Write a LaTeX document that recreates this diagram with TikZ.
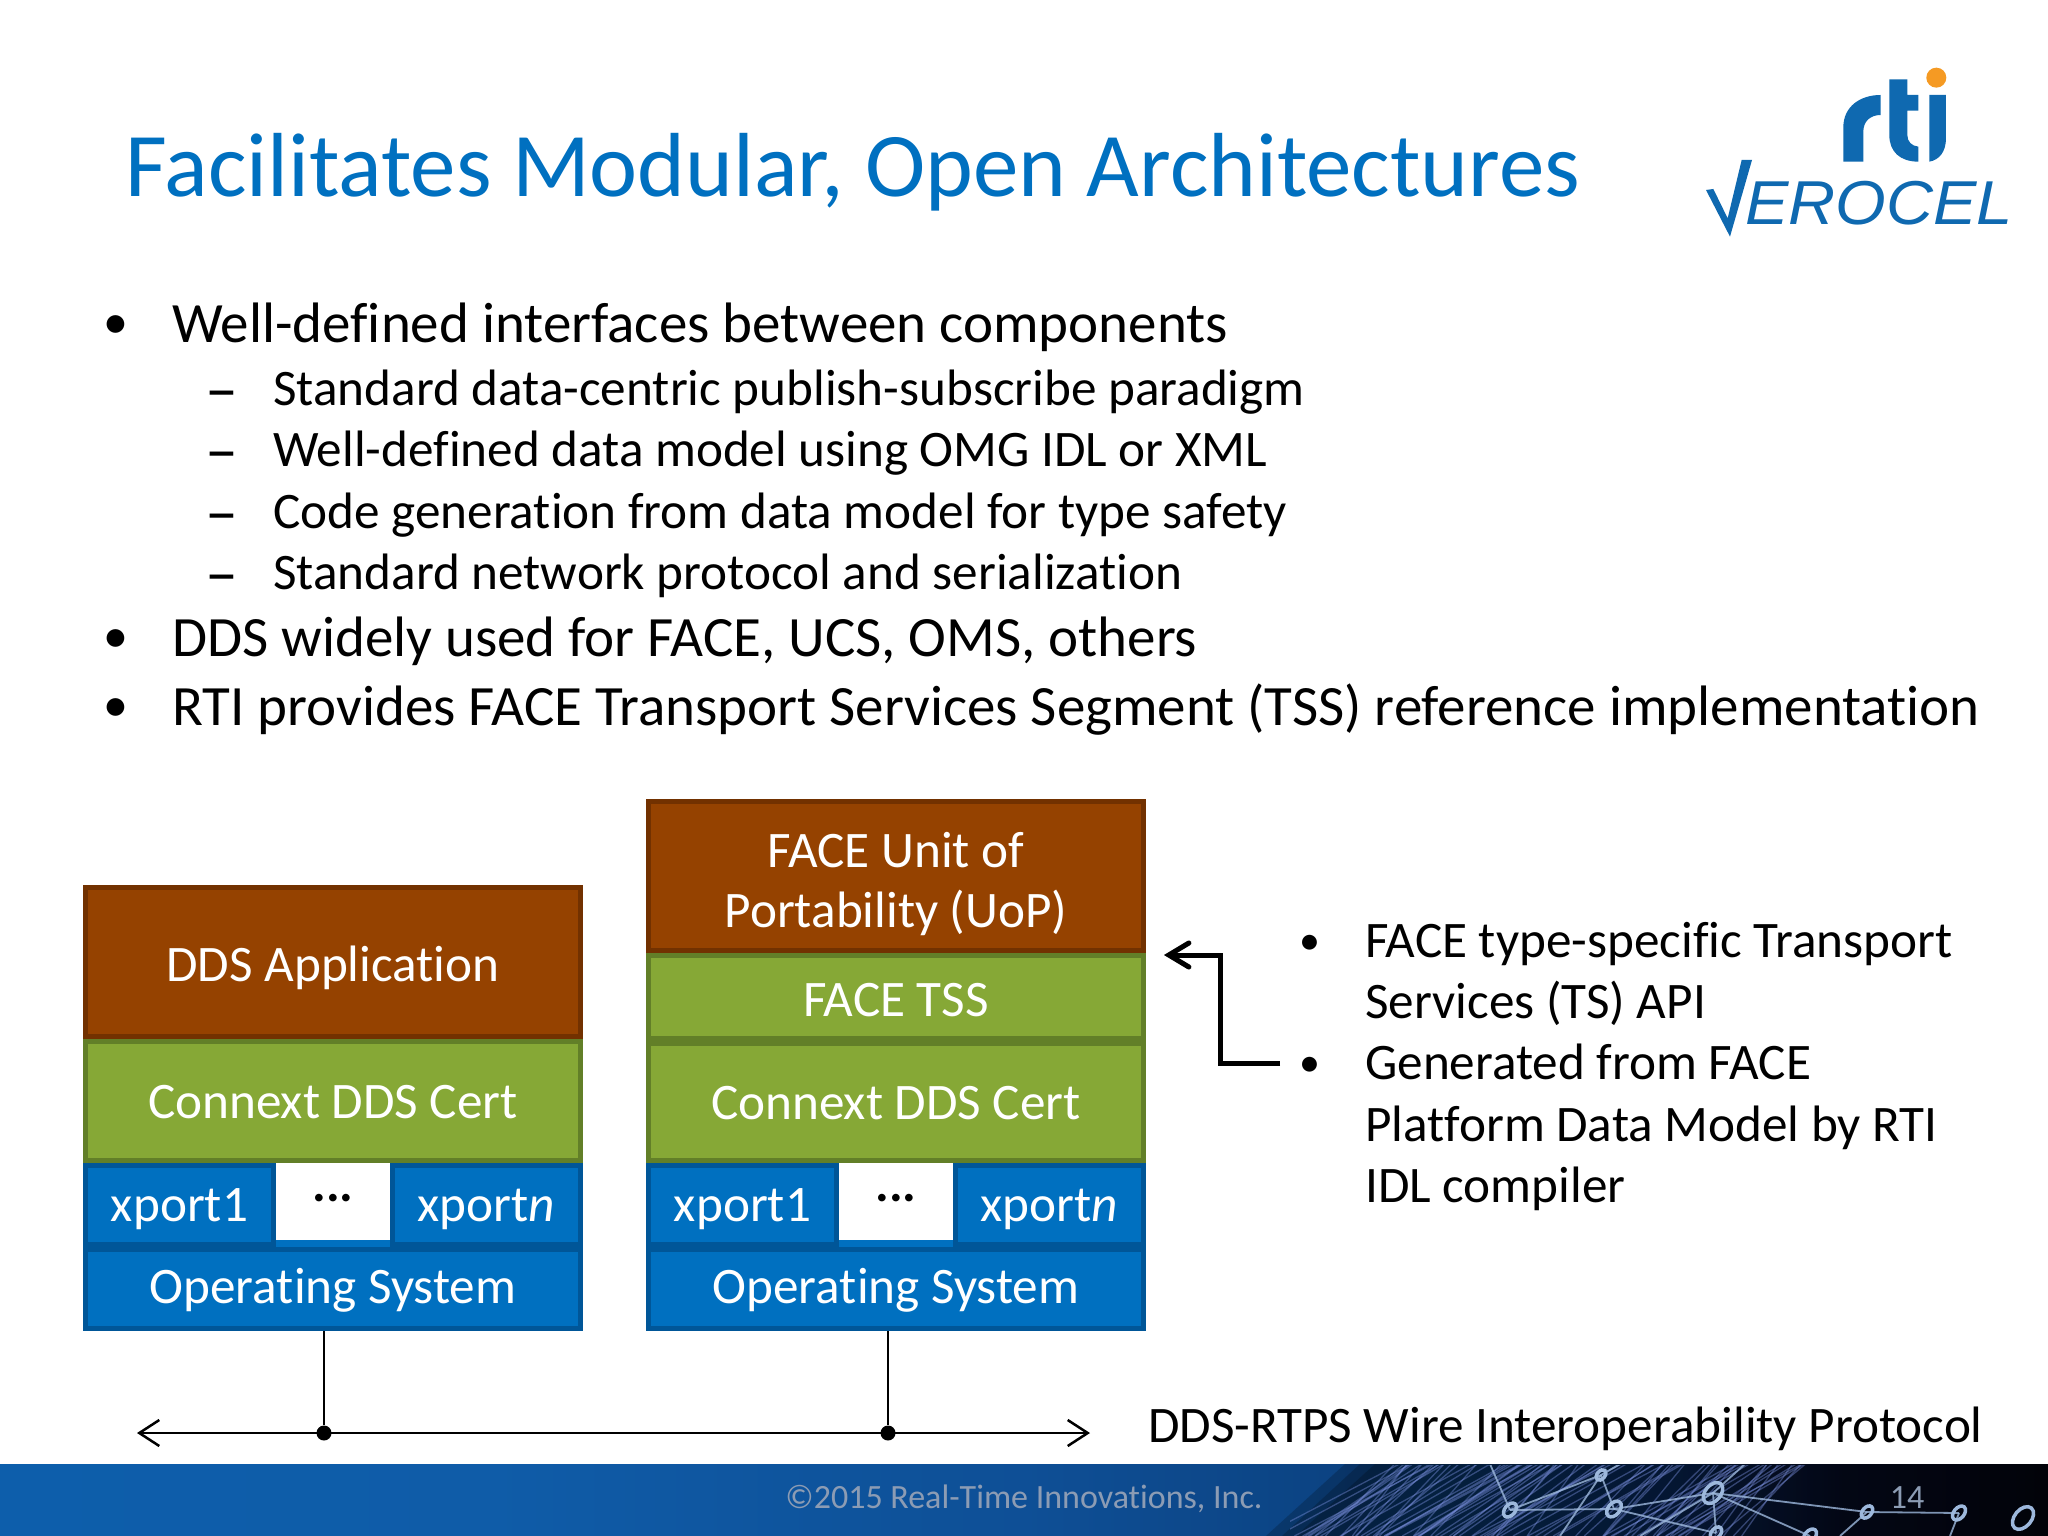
\documentclass[tikz,border=0pt]{standalone}
\usepackage{fontspec}
\setmainfont[Ligatures=NoCommon]{Carlito}
\newfontfamily\logofont{Liberation Sans}
\usetikzlibrary{positioning, arrows.meta}
\definecolor{titleblue}{HTML}{0070C0}
\definecolor{brownfill}{HTML}{954200}
\definecolor{brownline}{HTML}{723100}
\definecolor{greenfill}{HTML}{86A836}
\definecolor{greenline}{HTML}{627F28}
\definecolor{bluefill}{HTML}{0070C0}
\definecolor{blueline}{HTML}{005698}
\definecolor{logoblue}{HTML}{0F69B0}
\definecolor{logoorange}{HTML}{F59A23}
\definecolor{footgrey}{HTML}{8C9CB4}
\definecolor{netblue}{HTML}{9DB8DC}
\definecolor{foota}{HTML}{0D5EAB}
\definecolor{footb}{HTML}{0F5CA8}
\definecolor{footc}{HTML}{0E4F96}
\definecolor{footd}{HTML}{0B3F7C}
\definecolor{foote}{HTML}{0A2C62}
\definecolor{footf}{HTML}{080F2A}
\definecolor{footg}{HTML}{050814}
\pgfdeclarehorizontalshading{footshade}{100bp}{
  color(0bp)=(foota);
  color(25bp)=(foota);
  color(37bp)=(footb);
  color(50bp)=(footc);
  color(60bp)=(footd);
  color(66bp)=(foote);
  color(70bp)=(footf);
  color(75bp)=(footg);
  color(100bp)=(footg)}
\tikzset{
  x=1pt, y=-1pt,
  stackbox/.style={draw, line width=5pt, inner sep=0pt, text=white, text depth=0pt,
    font=\fontsize{51.2}{60}\selectfont},
  brownbox/.style={stackbox, fill=brownfill, draw=brownline, minimum width=495pt},
  greenbox/.style={stackbox, fill=greenfill, draw=greenline, minimum width=495pt},
  bluebox/.style={stackbox, fill=bluefill, draw=blueline, minimum width=495pt, minimum height=79pt},
  xportbox/.style={bluebox, minimum width=188pt, text height=32pt},
  gapbox/.style={inner sep=0pt, fill=white, minimum width=114pt, minimum height=77pt, text height=0pt, text depth=0pt,
    font=\fontsize{51.2}{60}\selectfont},
  toptext/.style={anchor=base west, inner sep=0pt, font=\fontsize{57}{60}\selectfont, text=black},
  subtext/.style={anchor=base west, inner sep=0pt, font=\fontsize{51.2}{60}\selectfont, text=black},
  mark1/.style={anchor=base, inner sep=0pt, font=\fontsize{50}{60}\selectfont},
  mark2/.style={anchor=base, inner sep=0pt, font=\fontsize{42}{60}\selectfont},
  markdash/.style={anchor=base, inner sep=0pt, font=\fontsize{66}{60}\selectfont},
  busdot/.style={circle, fill=black, inner sep=0pt, minimum size=15pt},
}
\begin{document}
\begin{tikzpicture}
  \useasboundingbox (0,0) rectangle (2048,1536);
  \fill[white] (0,0) rectangle (2048,1536);

  % title and logo
  \node[anchor=base west, inner sep=0pt, text=titleblue, font=\fontsize{91}{100}\selectfont] (title) at (125,196)
    {Facilitates Modular, Open Architectures};
  \begin{scope}[shift={(1650,40)}, x=0.3333pt, y=-0.3333pt]
    \fill[logoblue] (580,365) -- (580,262) .. controls (580,200) and (630,165) .. (692,165)
      -- (692,225) .. controls (660,225) and (640,245) .. (640,275) -- (640,365) -- cycle;
    \fill[logoblue] (718,118) -- (772,118) -- (772,165) -- (805,165) -- (805,212) -- (772,212) -- (772,285)
      .. controls (772,305) and (785,318) .. (805,320) -- (805,365) .. controls (750,365) and (718,335) .. (718,285) -- cycle;
    \fill[logoblue] (838,165) -- (888,165) -- (888,295) .. controls (888,335) and (868,360) .. (838,365) -- cycle;
    \fill[logoorange] (859,113) circle (30);
    \fill[logoblue] (168,450) -- (190,447) -- (233,535) -- (275,360) -- (306,360) -- (240,590) -- cycle;
    \node[anchor=base west, inner sep=0pt, text=logoblue, xscale=1.05,
      font=\fontsize{62}{70}\selectfont\logofont\itshape] (verocel) at (285,555) {EROCEL};
  \end{scope}

  % bullet list
  \node[mark1] (m1) at (116,338) {•};
  \node[toptext] (l1) at (172,342) {Well-defined interfaces between components};
  \node[markdash] (d1) at (222,411) {–};
  \node[subtext] (s1) at (273,405) {Standard data-centric publish-subscribe paradigm};
  \node[markdash] (d2) at (222,472) {–};
  \node[subtext] (s2) at (273,466) {Well-defined data model using OMG IDL or XML};
  \node[markdash] (d3) at (222,534) {–};
  \node[subtext] (s3) at (273,528) {Code generation from data model for type safety};
  \node[markdash] (d4) at (222,595) {–};
  \node[subtext] (s4) at (273,589) {Standard network protocol and serialization};
  \node[mark1] (m2) at (116,652) {•};
  \node[toptext] (l2) at (172,656) {DDS widely used for FACE, UCS, OMS, others};
  \node[mark1] (m3) at (116,721) {•};
  \node[toptext] (l3) at (172,725) {RTI provides FACE Transport Services Segment (TSS) reference implementation};

  % left stack
  \node[brownbox, anchor=north west, minimum height=149pt, text height=38pt] (appL) at (83,885) {DDS Application};
  \node[greenbox, below=0pt of appL, minimum height=119pt, text height=35pt] (certL) {Connext DDS Cert};
  \node[xportbox, anchor=north west] (xport1L) at (certL.south west) {xport1};
  \node[xportbox, anchor=north east] (xportnL) at (certL.south east) {xport\textit{n}};
  \node[bluebox, below=84pt of certL, text height=28pt] (osL) {Operating System};
  \node[gapbox, anchor=north] (gapL) at (certL.south) {\textbf{...}};
  \fill[bluefill] (gapL.south west) rectangle (gapL.east |- osL.north);

  % right stack
  \node[brownbox, anchor=north west, minimum height=149pt, align=center, text height=102pt, text depth=0pt] (uopR) at (646,799)
    {FACE Unit of\\Portability (UoP)};
  \node[greenbox, below=0pt of uopR, minimum height=83pt, text height=38pt] (tssR) {FACE TSS};
  \node[greenbox, below=0pt of tssR, minimum height=117pt, text height=34pt] (certR) {Connext DDS Cert};
  \node[xportbox, anchor=north west] (xport1R) at (certR.south west) {xport1};
  \node[xportbox, anchor=north east] (xportnR) at (certR.south east) {xport\textit{n}};
  \node[bluebox, below=84pt of certR, text height=28pt] (osR) {Operating System};
  \node[gapbox, anchor=north] (gapR) at (certR.south) {\textbf{...}};
  \fill[bluefill] (gapR.south west) rectangle (gapR.east |- osR.north);

  % right hand text
  \node[mark2] (m4) at (1310,954) {•};
  \node[subtext] (r1) at (1365,957) {FACE type-specific Transport};
  \node[subtext] (r2) at (1365,1018) {Services (TS) API};
  \node[mark2] (m5) at (1310,1076) {•};
  \node[subtext] (r3) at (1365,1079) {Generated from FACE};
  \node[subtext] (r4) at (1365,1141) {Platform Data Model by RTI};
  \node[subtext] (r5) at (1365,1202) {IDL compiler};

  % bent arrow, with its soft shadow first
  \coordinate (bentTip) at (1164,955);
  \coordinate (bentMid) at (1220,1063);
  \coordinate (bentEnd) at (1280,1063);
  \draw[line width=5pt, black!35, opacity=.6, -{Straight Barb[length=20pt,width=24pt,line cap=round]}, shift={(2,5)}]
    (bentEnd) -- (bentMid) |- (bentTip);
  \draw[line width=5pt, -{Straight Barb[length=20pt,width=24pt,line cap=round]}] (bentEnd) -- (bentMid) |- (bentTip);

  % wire protocol bus
  \coordinate (busL) at (137,1433);
  \coordinate (busR) at (1090,1433);
  \node[busdot] (tapL) at (324,1433) {};
  \node[busdot] (tapR) at (888,1433) {};
  \draw[line width=2.5pt] (tapL |- osL.south) -- (tapL);
  \draw[line width=2.5pt] (tapR |- osR.south) -- (tapR);
  \draw[line width=2.5pt, {Straight Barb[length=20pt,width=26pt]}-{Straight Barb[length=20pt,width=26pt]}] (busL) -- (busR);
  \node[subtext] (wire) at (1148,1442) {DDS-RTPS Wire Interoperability Protocol};

  % footer band
  \shade[shading=footshade] (0,1464) rectangle (2048,1536);
  \fill[black, opacity=.2] (1345,1464) -- (2048,1464) -- (2048,1536) -- (1266,1536) -- cycle;
  \fill[black, opacity=.2] (1360,1464) -- (2048,1464) -- (2048,1536) -- (1282,1536) -- cycle;
  \fill[black, opacity=.2] (1375,1464) -- (2048,1464) -- (2048,1536) -- (1296,1536) -- cycle;
  \begin{scope}
    \clip (1290,1465) rectangle (2048,1536);
    \pgfmathsetseed{12}
    \foreach \i in {1,...,90} {
      \pgfmathsetmacro{\sx}{1390+rnd*430}
      \pgfmathsetmacro{\ex}{\sx-50-rnd*90}
      \draw[netblue!80!blue, opacity=.4, line width=1.3pt] (\sx,1464) -- (\ex,1536);
    }
    \foreach \ax/\ay/\bx/\by in {1510/1510/1614/1509,1510/1510/1601/1475,1614/1509/1713/1493,1601/1475/1614/1509,
        1713/1493/1867/1512,1713/1493/1716/1533,1713/1493/1810/1536,1867/1512/1959/1513,
        1614/1509/1716/1533,1601/1475/1560/1536,1713/1493/1640/1536,1510/1510/1490/1464,1601/1475/1620/1464,
        1713/1493/1745/1464,1867/1512/1840/1536,1959/1513/1950/1536}
      \draw[netblue, opacity=.8, line width=1.8pt] (\ax,\ay) -- (\bx,\by);
    \foreach \hx/\hy/\hr in {1510/1510/8,1614/1509/9,1713/1493/12,1867/1512/7,1959/1513/8,2023/1518/13,1601/1475/6,1716/1533/7,1810/1536/8}
      \draw[netblue, line width=3.5pt, rotate around={-40:(\hx,\hy)}] (\hx,\hy) ellipse ({\hr*0.65} and \hr);
  \end{scope}
  \node[anchor=base, inner sep=0pt, text=footgrey, font=\fontsize{34}{36}\selectfont] (copy) at (1024,1508) {©2015 Real-Time Innovations, Inc.};
  \node[anchor=base, inner sep=0pt, text=footgrey, font=\fontsize{34}{36}\selectfont] (page) at (1907,1508) {14};
\end{tikzpicture}
\end{document}
